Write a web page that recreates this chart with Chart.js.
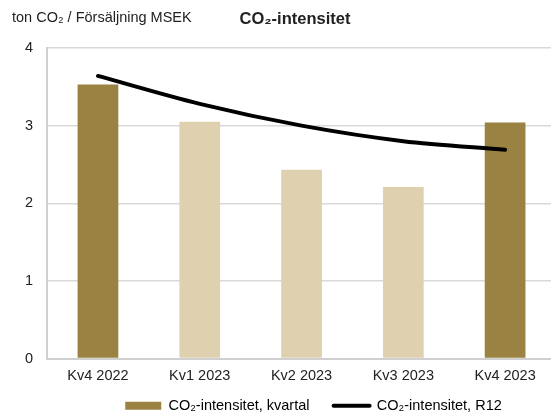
<!DOCTYPE html>
<html><head><meta charset="utf-8">
<script src="https://cdn.jsdelivr.net/npm/chart.js@4.4.0/dist/chart.umd.min.js"></script>
<style>
html,body{margin:0;padding:0;overflow:hidden;background:#fff}
#wrap{width:556px;height:419px}
</style></head>
<body><div id="wrap"><canvas id="chart"></canvas></div>
<script>
const labels  = ['Kv4 2022','Kv1 2023','Kv2 2023','Kv3 2023','Kv4 2023'];
const kvartal = [3.53, 3.05, 2.43, 2.21, 3.04];
const r12     = [3.64, 3.28, 3.00, 2.80, 2.69];
const yTicks  = [0, 1, 2, 3, 4];

const dark='#9a8243', light='#dfd1b0', txt='#222';
const barColors = kvartal.map((v,i)=> (i===0||i===kvartal.length-1) ? dark : light);
const font = {family:'"Liberation Sans", Arial, sans-serif', size:14.5};

/* ---- titel + enhet, legend lite åt höger ---- */
const headText = {
  id:'headText',
  afterLayout(c){
    const l=c.legend; l.left+=30; l.right+=30; l.top+=4; l.bottom+=4;
  },
  afterDraw(c){
    const g=c.ctx; g.save();
    g.fillStyle=txt; g.textBaseline='middle';
    g.font='14.5px "Liberation Sans", Arial, sans-serif';
    g.textAlign='left';
    g.fillText('ton CO₂ / Försäljning MSEK',12,18);
    g.font='bold 16.5px "Liberation Sans", Arial, sans-serif';
    g.textAlign='center';
    g.fillText('CO₂-intensitet',295,19);
    g.restore();
  }
};

new Chart(document.getElementById('chart'),{
  data:{
    labels,
    datasets:[
      { type:'line', label:'CO₂-intensitet, R12', data:r12, order:0,
        borderColor:'#000', backgroundColor:'#000', borderWidth:4,
        tension:.3, pointRadius:0, borderCapStyle:'round' },
      { type:'bar', label:'CO₂-intensitet, kvartal', data:kvartal, order:1,
        backgroundColor:barColors, barPercentage:.8, categoryPercentage:.5 }
    ]
  },
  options:{
    responsive:true, maintainAspectRatio:false, animation:false,
    layout:{padding:{top:48,left:11,right:0,bottom:0}},
    scales:{
      x:{ grid:{display:false, drawTicks:false}, border:{color:'#d0d0d0',width:2},
          ticks:{color:txt,font,padding:9}, afterFit:s=>{s.height=28} },
      y:{ min:0,max:4, afterBuildTicks:s=>{s.ticks=yTicks.map(v=>({value:v}))},
          grid:{color:'#d9d9d9',lineWidth:1.5,drawTicks:false}, border:{color:'#d0d0d0',width:2},
          ticks:{color:txt,font,padding:14} }
    },
    plugins:{
      tooltip:{enabled:false},
      legend:{ position:'bottom',
        labels:{ color:txt, font, usePointStyle:true, pointStyleWidth:36, boxHeight:8, padding:8,
          generateLabels:c=>[
            {text:'CO₂-intensitet, kvartal    ', pointStyle:'rect', fillStyle:dark, strokeStyle:dark, lineWidth:0, datasetIndex:1},
            {text:'CO₂-intensitet, R12', pointStyle:'line', fillStyle:'#000', strokeStyle:'#000', lineWidth:4, lineCap:'round', datasetIndex:0}
          ] } }
    }
  },
  plugins:[headText]
});
</script></body></html>
